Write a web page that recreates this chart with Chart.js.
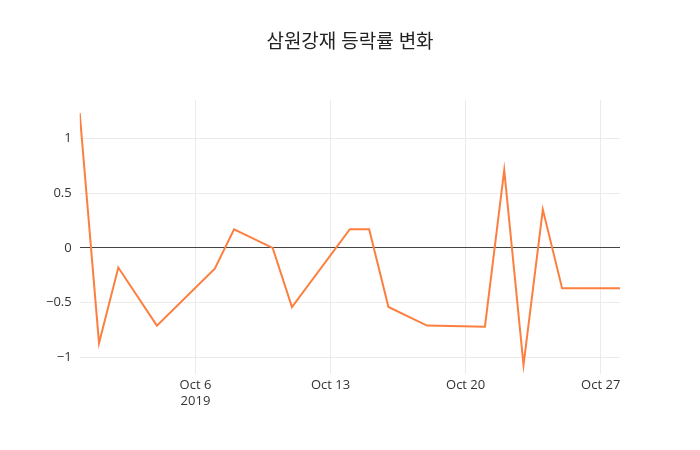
<!DOCTYPE html>
<html><head><meta charset="utf-8">
<script src="https://cdn.jsdelivr.net/npm/chart.js@4"></script>
<style>body{margin:0;background:#fff}#w{width:700px;height:450px}</style>
</head><body><div id="w"><canvas id="c"></canvas></div>
<script>
// x = day offset (Sep 30 2019 = 0, Oct d = d)
const days = [0,1,2,4,7,8,10,11,14,15,16,18,21,22,23,24,25,28];
const changes = [1.23,-0.87,-0.18,-0.71,-0.19,0.17,0,-0.54,0.17,0.17,-0.54,-0.71,-0.72,0.71,-1.07,0.35,-0.37,-0.37];
const xTicks = [6,13,20,27];
const xTickLabels = {6:['Oct 6','2019'],13:'Oct 13',20:'Oct 20',27:'Oct 27'};
const yTicks = [-1,-0.5,0,0.5,1];
const titleText = '삼원강재 등락률 변화';
const font = "'Open Sans', 'Noto Sans CJK KR', sans-serif";
const titlePlugin = {id:'ttl',afterDraw(ch){const c=ch.ctx;c.save();c.font="19px "+font;c.fillStyle='#222';c.textAlign='center';c.textBaseline='middle';c.fillText(titleText,ch.width/2,43);c.restore();}};
new Chart(document.getElementById('c'), {
  type:'line',
  data:{datasets:[{data:days.map((d,i)=>({x:d,y:changes[i]})),borderColor:'#fd7f3f',borderWidth:2,pointRadius:0,tension:0,fill:false}]},
  options:{
    responsive:true, maintainAspectRatio:false, animation:false,
    layout:{padding:{left:38,right:80,top:100,bottom:37}},
    plugins:{legend:{display:false},tooltip:{enabled:false},title:{display:false}},
    scales:{
      x:{type:'linear',min:0,max:28,
        afterBuildTicks:a=>{a.ticks=xTicks.map(v=>({value:v}));},
        ticks:{callback:v=>xTickLabels[v],color:'#333',font:{family:font,size:13},maxRotation:0,padding:4},
        grid:{color:'#ebebeb',drawTicks:false},border:{display:false}},
      y:{min:-1.15,max:1.35,
        afterBuildTicks:a=>{a.ticks=yTicks.map(v=>({value:v}));},
        ticks:{callback:v=>String(v).replace('-','−'),color:'#333',font:{family:font,size:13},padding:8},
        grid:{color:c=>c.tick&&c.tick.value===0?'#444':'#ebebeb',drawTicks:false},border:{display:false}}
    }
  },
  plugins:[titlePlugin]
});
</script></body></html>
